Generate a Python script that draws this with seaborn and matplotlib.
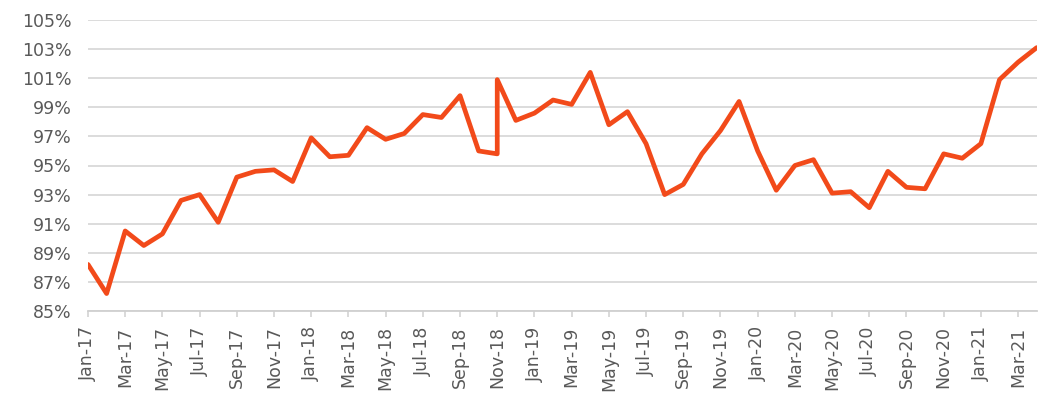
import pandas as pd
import matplotlib
matplotlib.use("Agg")
import matplotlib.pyplot as plt
import seaborn as sns

# monthly category axis (Excel-style date axis, one slot per month)
months = ['Jan-17', 'Feb-17', 'Mar-17', 'Apr-17', 'May-17', 'Jun-17', 'Jul-17', 'Aug-17',
          'Sep-17', 'Oct-17', 'Nov-17', 'Dec-17', 'Jan-18', 'Feb-18', 'Mar-18', 'Apr-18',
          'May-18', 'Jun-18', 'Jul-18', 'Aug-18', 'Sep-18', 'Oct-18', 'Nov-18', 'Dec-18',
          'Jan-19', 'Feb-19', 'Mar-19', 'Apr-19', 'May-19', 'Jun-19', 'Jul-19', 'Aug-19',
          'Sep-19', 'Oct-19', 'Nov-19', 'Dec-19', 'Jan-20', 'Feb-20', 'Mar-20', 'Apr-20',
          'May-20', 'Jun-20', 'Jul-20', 'Aug-20', 'Sep-20', 'Oct-20', 'Nov-20', 'Dec-20',
          'Jan-21', 'Feb-21', 'Mar-21', 'Apr-21']

# data points (Nov-18 appears twice in the source series)
point_months = months[:23] + ['Nov-18'] + months[23:]
values = [88.2, 86.2, 90.5, 89.5, 90.3, 92.6, 93.0, 91.1, 94.2, 94.6, 94.7, 93.9,
          96.9, 95.6, 95.7, 97.6, 96.8, 97.2, 98.5, 98.3, 99.8, 96.0, 95.8, 100.9,
          98.1, 98.6, 99.5, 99.2, 101.4, 97.8, 98.7, 96.5, 93.0, 93.7, 95.8, 97.4,
          99.4, 96.0, 93.3, 95.0, 95.4, 93.1, 93.2, 92.1, 94.6, 93.5, 93.4, 95.8,
          95.5, 96.5, 100.9, 102.1, 103.1]

df = pd.DataFrame({'month': point_months, 'value': values})
df['pos'] = df['month'].map({m: i for i, m in enumerate(months)})

sns.set_style('white')
plt.rcParams['font.family'] = ['DejaVu Sans']

fig = plt.figure(figsize=(10.48, 3.99), dpi=100)
ax = fig.add_axes([88 / 1048, 1 - 311 / 399, (1036.7 - 88) / 1048, (311 - 20) / 399])

sns.lineplot(x='pos', y='value', data=df, ax=ax, estimator=None, sort=False,
             color='#F24A1A', linewidth=3.4, solid_joinstyle='round')

ax.set_xlim(0, len(months) - 1)
ax.set_ylim(85, 105)
ax.set_yticks(range(85, 106, 2))
ax.set_yticklabels([f'{v}%' for v in range(85, 106, 2)])
ax.set_xticks(range(0, len(months), 2))
ax.set_xticklabels(months[::2], rotation=90)

ax.grid(axis='y', color='#D9D9D9', linewidth=1.3)
ax.grid(axis='x', visible=False)
ax.set_axisbelow(True)
for s in ['top', 'right', 'left']:
    ax.spines[s].set_visible(False)
ax.spines['bottom'].set_color('#D0D0D0')
ax.spines['bottom'].set_linewidth(1.3)

ax.tick_params(axis='y', length=0, pad=12, labelsize=12.5, labelcolor='#595959')
ax.tick_params(axis='x', length=4, width=1.1, color='#D0D0D0', pad=7,
               labelsize=12.5, labelcolor='#595959', bottom=True)
ax.set_xlabel('')
ax.set_ylabel('')

fig.savefig('out.png', dpi=100)
